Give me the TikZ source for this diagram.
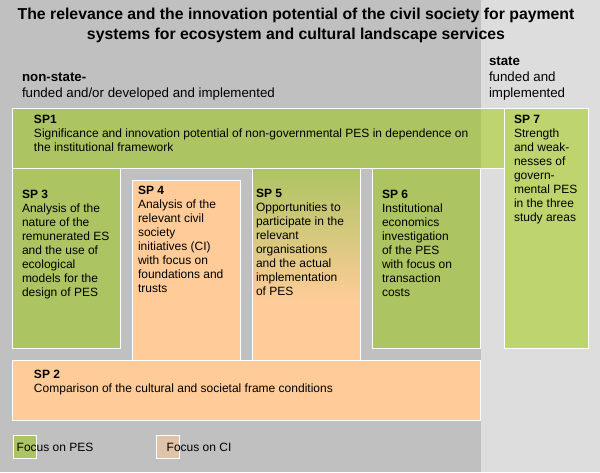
\documentclass[tikz,border=0pt]{standalone}
\usepackage{fontspec}
\setmainfont{Liberation Sans}
\definecolor{dkgray}{HTML}{C0C0C0}
\definecolor{ltgray}{HTML}{DDDDDD}
\definecolor{grn}{HTML}{ADC463}
\definecolor{ltgrn}{HTML}{BED56F}
\definecolor{orng}{HTML}{FFCC99}
\definecolor{cibox}{HTML}{DFC4A9}
\pgfdeclareverticalshading{spfive}{100bp}{color(0bp)=(orng); color(40bp)=(orng); color(75bp)=(grn); color(100bp)=(grn)}
\tikzset{
  box/.style={draw=white, line width=1pt, anchor=north west, inner sep=0pt, outer sep=0pt},
  txt/.style={anchor=base west, align=left, inner sep=0pt, outer sep=0pt, font=\fontsize{12}{14}\selectfont},
  lbl/.style={anchor=base west, align=left, inner sep=0pt, outer sep=0pt, font=\fontsize{13.3}{16}\selectfont},
  ttl/.style={anchor=base, align=center, inner sep=0pt, outer sep=0pt, font=\bfseries\fontsize{15.8}{20}\selectfont}
}
\begin{document}
\begin{tikzpicture}[x=1pt, y=-1pt]
\useasboundingbox (0,0) rectangle (600,472);
% backgrounds
\fill[dkgray] (0,0) rectangle (480.5,472);
\fill[ltgray] (480.5,0) rectangle (600,472);
% boxes
\node[box, fill=grn, minimum width=492pt, minimum height=60pt] (sp1) at (12.5,108.5) {};
\fill[ltgrn] (480.5,109) rectangle (504,168);
\node[box, fill=grn, minimum width=108pt, minimum height=180pt] (sp3) at (12.5,168.5) {};
\node[box, fill=orng, minimum width=108pt, minimum height=180pt] (sp4) at (132.5,180.5) {};
\node[box, shading=spfive, minimum width=108pt, minimum height=192pt] (sp5) at (252.5,168.5) {};
\node[box, fill=grn, minimum width=108pt, minimum height=180pt] (sp6) at (372.5,168.5) {};
\node[box, fill=ltgrn, minimum width=84pt, minimum height=240pt] (sp7) at (504.5,108.5) {};
\node[box, fill=orng, minimum width=468pt, minimum height=60pt] (sp2) at (12.5,360.5) {};
\node[box, fill=grn, minimum width=23pt, minimum height=23pt] (legpes) at (13.5,435.5) {};
\node[box, fill=cibox, minimum width=22.5pt, minimum height=23pt] (legci) at (156.5,435.5) {};
% texts (anchor = baseline of the last line)
\node[ttl] (title) at (296,39.4) {The relevance and the innovation potential of the civil society for payment\\systems for ecosystem and cultural landscape services};
\node[lbl] (nonstate) at (22,97) {\textbf{non-state-}\\funded and/or developed and implemented};
\node[lbl] (state) at (489,97) {\textbf{state}\\funded and\\implemented};
\node[txt] (t1) at (34,151.6) {\textbf{SP1}\\Significance and innovation potential of non-governmental PES in dependence on\\the institutional framework};
\node[txt] (t3) at (22,296.6) {\textbf{SP 3}\\Analysis of the\\nature of the\\remunerated ES\\and the use of\\ecological\\models for the\\design of PES};
\node[txt] (t4) at (138,292.6) {\textbf{SP 4}\\Analysis of the\\relevant civil\\society\\initiatives (CI)\\with focus on\\foundations and\\trusts};
\node[txt] (t5) at (256,295) {\textbf{SP 5}\\Opportunities to\\participate in the\\relevant\\organisations\\and the actual\\implementation\\of PES};
\node[txt] (t6) at (382,296.6) {\textbf{SP 6}\\Institutional\\economics\\investigation\\of the PES\\with focus on\\transaction\\costs};
\node[txt] (t7) at (514,221.6) {\textbf{SP 7}\\Strength\\and weak-\\nesses of\\govern-\\mental PES\\in the three\\study areas};
\node[txt] (t2) at (34,392.6) {\textbf{SP 2}\\Comparison of the cultural and societal frame conditions};
\node[txt] (lt1) at (16.7,451.7) {Focus on PES};
\node[txt] (lt2) at (166.7,451.7) {Focus on CI};
\end{tikzpicture}
\end{document}
